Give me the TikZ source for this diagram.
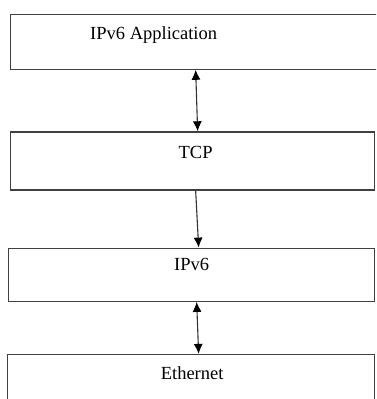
\documentclass[tikz,border=0pt]{standalone}
\usepackage{fontspec}
\setmainfont{Liberation Serif}
\usetikzlibrary{positioning, arrows.meta}
\tikzset{
  layer/.style={rectangle, draw=black!75, line width=1.3pt, minimum width=364pt, minimum height=56pt, inner sep=0pt},
  caption/.style={anchor=base, yshift=-25pt, font=\fontsize{18.5}{22}\selectfont},
  arrow/.style={line width=1.1pt, draw=black!80, -{Latex[length=10pt,width=9pt,black]}},
  twoway/.style={line width=1.1pt, draw=black!80, {Latex[length=10pt,width=9pt,black]}-{Latex[length=10pt,width=9pt,black]}}
}

\begin{document}
\begin{tikzpicture}[x=1pt, y=-1pt]
\useasboundingbox (0,0) rectangle (376,399);
\clip (0,0) rectangle (376,399);

\node (app) [layer, anchor=north west, minimum width=372pt, minimum height=54.5pt, label={[caption, xshift=-43pt]north:IPv6 Application}] at (10,14) {};
\node (tcp) [layer, minimum height=58pt, below=61.5pt of app.south west, anchor=north west, label={[caption, xshift=3pt, yshift=-2pt]north:TCP}] {};
\node (ip) [layer, minimum width=366pt, minimum height=53pt, below=57pt of tcp.south west, anchor=north west, xshift=-2pt, label={[caption, yshift=2pt]north:IPv6}] {};
\node (eth) [layer, minimum width=367pt, below=52pt of ip.south west, anchor=north west, xshift=-1pt, label={[caption, xshift=1pt, yshift=-1pt]north:Ethernet}] {};

\draw [twoway] ([xshift=-1pt]app.south) -- ([xshift=5pt]tcp.north);
\draw [arrow] ([xshift=3pt]tcp.south) -- ([xshift=7pt]ip.north);
\draw [twoway] ([xshift=5pt]ip.south) -- ([xshift=7.5pt]eth.north);
\end{tikzpicture}
\end{document}
